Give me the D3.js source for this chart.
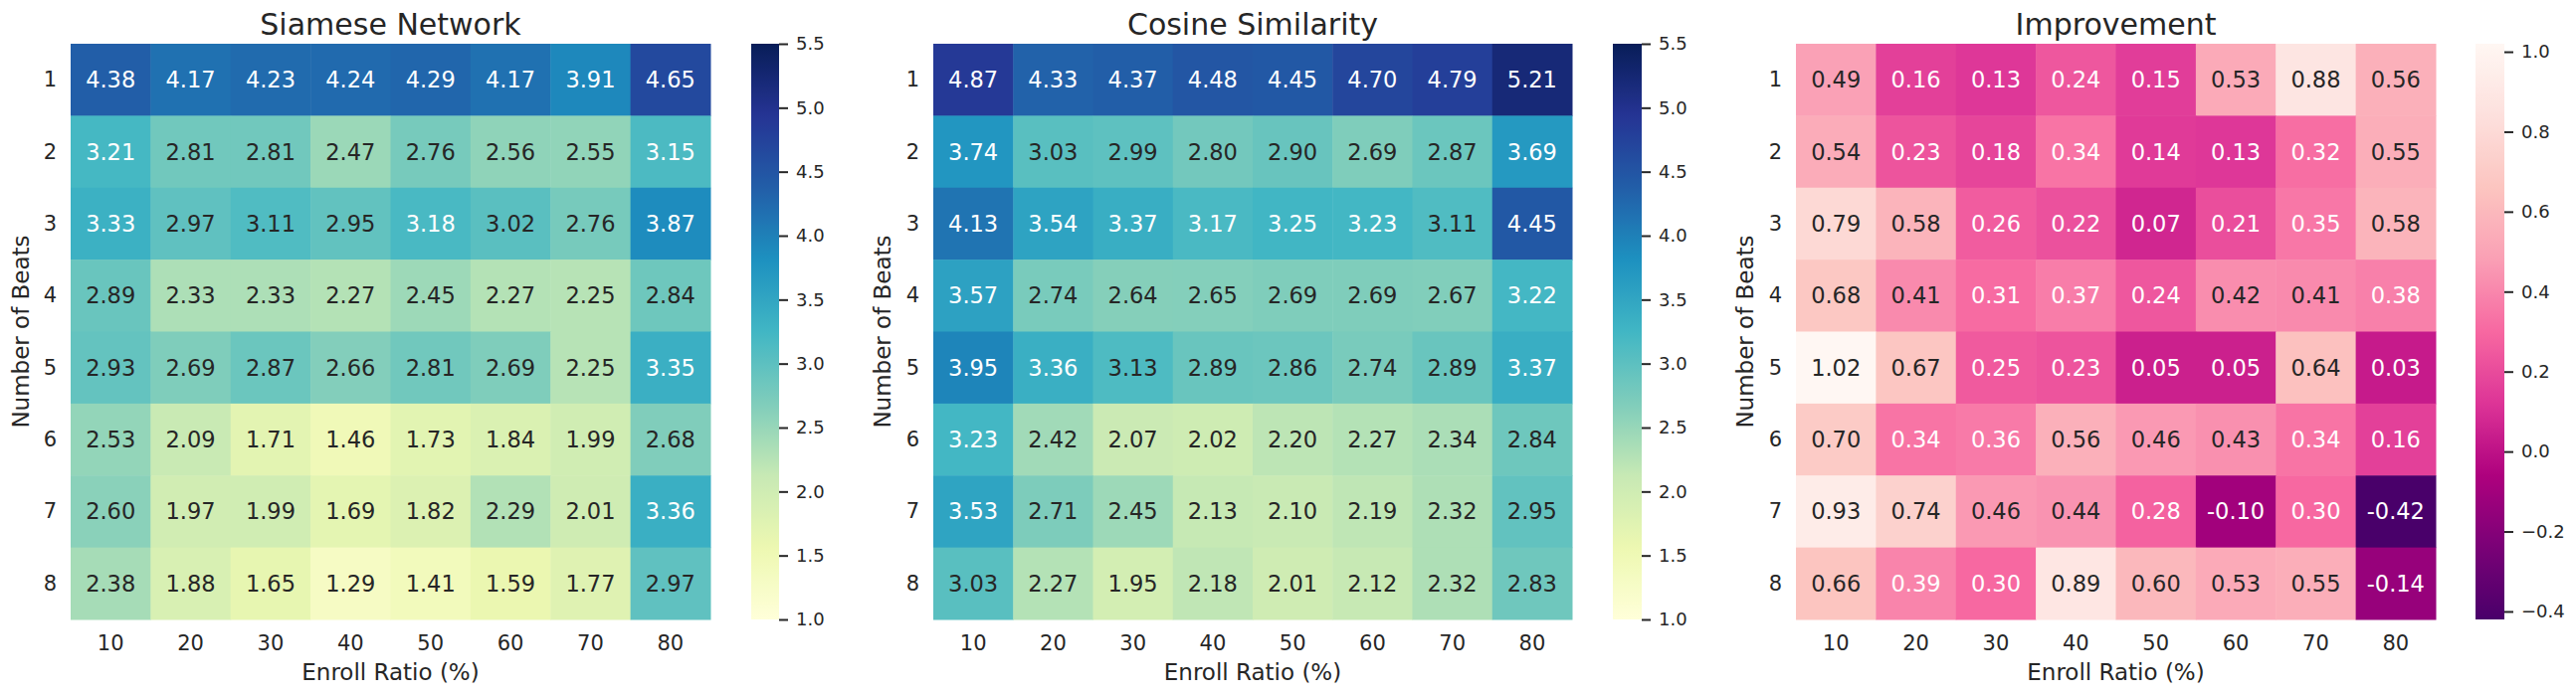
<!DOCTYPE html>
<html>
<head>
<meta charset="utf-8">
<script src="https://cdn.jsdelivr.net/npm/d3@7"></script>
<style>
  html, body { margin: 0; padding: 0; background: #fff; }
  svg { display: block; font-family: "DejaVu Sans", sans-serif; }
</style>
</head>
<body>
<svg id="chart" width="2589" height="700"></svg>
<script>
// ---------- data ----------
const enrollRatios = ["10", "20", "30", "40", "50", "60", "70", "80"];
const beatCounts = ["1", "2", "3", "4", "5", "6", "7", "8"];

const siameseValues = [
  [4.38, 4.17, 4.23, 4.24, 4.29, 4.17, 3.91, 4.65],
  [3.21, 2.81, 2.81, 2.47, 2.76, 2.56, 2.55, 3.15],
  [3.33, 2.97, 3.11, 2.95, 3.18, 3.02, 2.76, 3.87],
  [2.89, 2.33, 2.33, 2.27, 2.45, 2.27, 2.25, 2.84],
  [2.93, 2.69, 2.87, 2.66, 2.81, 2.69, 2.25, 3.35],
  [2.53, 2.09, 1.71, 1.46, 1.73, 1.84, 1.99, 2.68],
  [2.60, 1.97, 1.99, 1.69, 1.82, 2.29, 2.01, 3.36],
  [2.38, 1.88, 1.65, 1.29, 1.41, 1.59, 1.77, 2.97]
];

const cosineValues = [
  [4.87, 4.33, 4.37, 4.48, 4.45, 4.70, 4.79, 5.21],
  [3.74, 3.03, 2.99, 2.80, 2.90, 2.69, 2.87, 3.69],
  [4.13, 3.54, 3.37, 3.17, 3.25, 3.23, 3.11, 4.45],
  [3.57, 2.74, 2.64, 2.65, 2.69, 2.69, 2.67, 3.22],
  [3.95, 3.36, 3.13, 2.89, 2.86, 2.74, 2.89, 3.37],
  [3.23, 2.42, 2.07, 2.02, 2.20, 2.27, 2.34, 2.84],
  [3.53, 2.71, 2.45, 2.13, 2.10, 2.19, 2.32, 2.95],
  [3.03, 2.27, 1.95, 2.18, 2.01, 2.12, 2.32, 2.83]
];

const improvementValues = [
  [0.49, 0.16, 0.13, 0.24, 0.15, 0.53, 0.88, 0.56],
  [0.54, 0.23, 0.18, 0.34, 0.14, 0.13, 0.32, 0.55],
  [0.79, 0.58, 0.26, 0.22, 0.07, 0.21, 0.35, 0.58],
  [0.68, 0.41, 0.31, 0.37, 0.24, 0.42, 0.41, 0.38],
  [1.02, 0.67, 0.25, 0.23, 0.05, 0.05, 0.64, 0.03],
  [0.70, 0.34, 0.36, 0.56, 0.46, 0.43, 0.34, 0.16],
  [0.93, 0.74, 0.46, 0.44, 0.28, -0.10, 0.30, -0.42],
  [0.66, 0.39, 0.30, 0.89, 0.60, 0.53, 0.55, -0.14]
];

const panelTitles = ["Siamese Network", "Cosine Similarity", "Improvement"];
const xAxisTitle = "Enroll Ratio (%)";
const yAxisTitle = "Number of Beats";

const scoreTicks = [1.0, 1.5, 2.0, 2.5, 3.0, 3.5, 4.0, 4.5, 5.0, 5.5];
const improvementTicks = [-0.4, -0.2, 0.0, 0.2, 0.4, 0.6, 0.8, 1.0];

const ylgnbuColors = ["#ffffd9","#edf8b1","#c7e9b4","#7fcdbb","#41b6c4","#1d91c0","#225ea8","#253494","#081d58"];
const rdpuReversedColors = ["#49006a","#7a0177","#ae017e","#dd3497","#f768a1","#fa9fb5","#fcc5c0","#fde0dd","#fff7f3"];

// ---------- layout ----------
const TEXT = "#262626";
const topY = 44, bottomY = 623;
const panels = [
  { title: panelTitles[0], data: siameseValues, colors: ylgnbuColors, vmin: 1.0, vmax: 5.5, ticks: scoreTicks, fmt: d3.format(".1f"),
    x0: 71, x1: 714, cb0: 755, cb1: 783, ylabX: 21 },
  { title: panelTitles[1], data: cosineValues, colors: ylgnbuColors, vmin: 1.0, vmax: 5.5, ticks: scoreTicks, fmt: d3.format(".1f"),
    x0: 938, x1: 1580, cb0: 1621, cb1: 1650, ylabX: 887 },
  { title: panelTitles[2], data: improvementValues, colors: rdpuReversedColors,
    vmin: d3.min(improvementValues.flat()), vmax: d3.max(improvementValues.flat()), ticks: improvementTicks, fmt: d3.format(".1f"),
    x0: 1805, x1: 2448, cb0: 2488, cb1: 2517, ylabX: 1754 }
];

const svg = d3.select("#chart");
const defs = svg.append("defs");

function lum(c) {
  const r = d3.rgb(c);
  const f = v => { v /= 255; return v <= 0.03928 ? v / 12.92 : Math.pow((v + 0.055) / 1.055, 2.4); };
  return 0.2126 * f(r.r) + 0.7152 * f(r.g) + 0.0722 * f(r.b);
}

panels.forEach((p, pi) => {
  const n = p.colors.length;
  const color = d3.scaleLinear()
    .domain(d3.range(n).map(i => p.vmin + (p.vmax - p.vmin) * i / (n - 1)))
    .range(p.colors)
    .interpolate(d3.interpolateRgb)
    .clamp(true);

  const x = d3.scaleBand().domain(enrollRatios).range([p.x0, p.x1]);
  const y = d3.scaleBand().domain(beatCounts).range([topY, bottomY]);

  const g = svg.append("g");

  const cells = [];
  p.data.forEach((row, ri) => row.forEach((v, ci) => cells.push({ r: beatCounts[ri], c: enrollRatios[ci], v })));

  g.selectAll("rect.cell").data(cells).join("rect")
    .attr("class", "cell")
    .attr("x", d => x(d.c))
    .attr("y", d => y(d.r))
    .attr("width", x.bandwidth() + 0.5)
    .attr("height", y.bandwidth() + 0.5)
    .attr("fill", d => color(d.v));

  g.selectAll("text.annot").data(cells).join("text")
    .attr("class", "annot")
    .attr("x", d => x(d.c) + x.bandwidth() / 2)
    .attr("y", d => y(d.r) + y.bandwidth() / 2)
    .attr("text-anchor", "middle")
    .attr("dominant-baseline", "central")
    .attr("font-size", 22.5)
    .attr("fill", d => lum(color(d.v)) > 0.408 ? TEXT : "#ffffff")
    .text(d => d.v.toFixed(2));

  // x axis
  const xAxis = d3.axisBottom(x).tickSize(0).tickPadding(0);
  const xg = g.append("g").attr("transform", `translate(0,${bottomY})`).call(xAxis);
  xg.select(".domain").remove();
  xg.selectAll("text").attr("font-size", 21).attr("fill", TEXT)
    .attr("font-family", "DejaVu Sans").attr("dy", null).attr("y", 24).attr("dominant-baseline", "central");

  // y axis
  const yAxis = d3.axisLeft(y).tickSize(0).tickPadding(0);
  const yg = g.append("g").attr("transform", `translate(${p.x0},0)`).call(yAxis);
  yg.select(".domain").remove();
  yg.selectAll("text").attr("font-size", 21).attr("fill", TEXT)
    .attr("font-family", "DejaVu Sans").attr("dy", null).attr("x", -14).attr("dominant-baseline", "central");

  // title
  g.append("text")
    .attr("x", (p.x0 + p.x1) / 2).attr("y", 35)
    .attr("text-anchor", "middle")
    .attr("font-size", 30).attr("fill", TEXT)
    .text(p.title);

  // axis titles
  g.append("text")
    .attr("x", (p.x0 + p.x1) / 2).attr("y", 676)
    .attr("text-anchor", "middle").attr("dominant-baseline", "central")
    .attr("font-size", 23).attr("fill", TEXT)
    .text(xAxisTitle);
  g.append("text")
    .attr("transform", `translate(${p.ylabX},${(topY + bottomY) / 2}) rotate(-90)`)
    .attr("text-anchor", "middle").attr("dominant-baseline", "central")
    .attr("font-size", 23).attr("fill", TEXT)
    .text(yAxisTitle);

  // colorbar
  const gid = "cbgrad" + pi;
  const grad = defs.append("linearGradient").attr("id", gid)
    .attr("x1", 0).attr("y1", 1).attr("x2", 0).attr("y2", 0);
  d3.range(0, 101).forEach(i => {
    const v = p.vmin + (p.vmax - p.vmin) * i / 100;
    grad.append("stop").attr("offset", i + "%").attr("stop-color", color(v));
  });
  const cbScale = d3.scaleLinear().domain([p.vmin, p.vmax]).range([bottomY, topY]);
  g.append("rect")
    .attr("x", p.cb0).attr("y", topY)
    .attr("width", p.cb1 - p.cb0).attr("height", bottomY - topY)
    .attr("fill", `url(#${gid})`);
  const cbAxis = d3.axisRight(cbScale).tickValues(p.ticks).tickSize(9).tickPadding(8)
    .tickFormat(d => p.fmt(d).replace("-", "\u2212"));
  const cg = g.append("g").attr("transform", `translate(${p.cb1},0)`).call(cbAxis);
  cg.select(".domain").remove();
  cg.selectAll(".tick line").attr("stroke", TEXT).attr("stroke-width", 2);
  cg.selectAll("text").attr("font-size", 18).attr("fill", TEXT).attr("font-family", "DejaVu Sans");
});
</script>
</body>
</html>
